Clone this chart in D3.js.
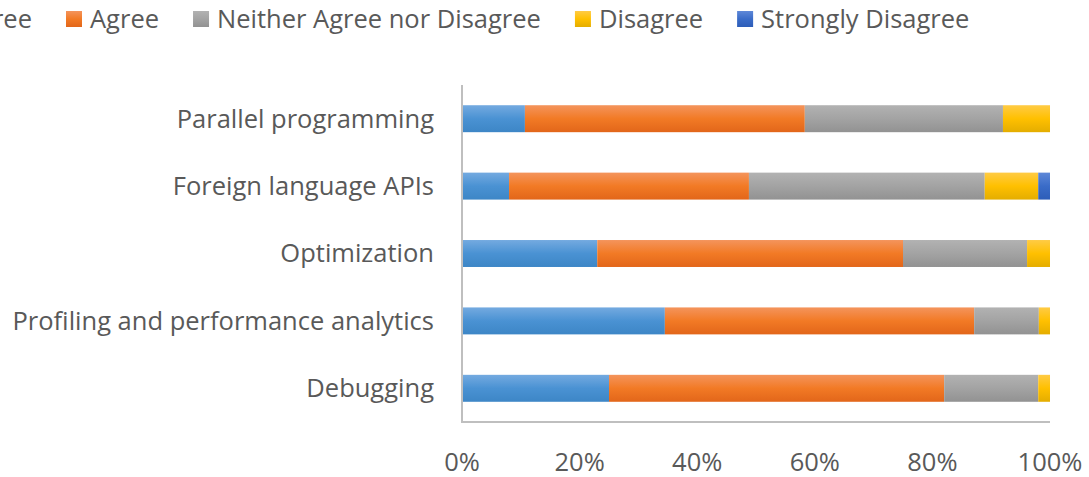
<!DOCTYPE html>
<html>
<head>
<meta charset="utf-8">
<script src="https://cdn.jsdelivr.net/npm/d3@7"></script>
<style>
body { margin: 0; background: #fff; }
svg { display: block; font-family: "Open Sans", sans-serif; }
</style>
</head>
<body>
<div class="featured"></div>
<script>
// categories, top to bottom as drawn
var categories = ["Parallel programming", "Foreign language APIs", "Optimization",
                  "Profiling and performance analytics", "Debugging"];
var seriesNames = ["Strongly Agree", "Agree", "Neither Agree nor Disagree", "Disagree", "Strongly Disagree"];

// percent of answers per category (same order as categories)
var stronglyAgree = [10.7, 8.0, 23.0, 34.5, 25.0];
var agree         = [47.6, 40.8, 52.0, 52.6, 57.0];
var neither       = [33.7, 40.1, 21.1, 11.0, 16.0];
var disagree      = [8.0, 9.1, 3.9, 1.9, 2.0];
var stronglyDis   = [0, 2.0, 0, 0, 0];

var tickValues = [0, 0.2, 0.4, 0.6, 0.8, 1];

var W = 1089, H = 477;
var fs = 25.5;
var colors = [
  ["#74aae0", "#4a92d3", "#3d86c6"],
  ["#f4945c", "#f27a25", "#e2661a"],
  ["#b2b2b2", "#a3a3a3", "#929292"],
  ["#ffcb45", "#ffc000", "#e4ad00"],
  ["#5e88d8", "#3a6cc8", "#2d5db8"]
];

var svg = d3.select(".featured").append("svg").attr("width", W).attr("height", H);
var defs = svg.append("defs");
colors.forEach(function(c, i) {
  var g = defs.append("linearGradient").attr("id", "grad" + i)
    .attr("x1", 0).attr("y1", 0).attr("x2", 0).attr("y2", 1);
  g.append("stop").attr("offset", "0%").attr("stop-color", c[0]);
  g.append("stop").attr("offset", "50%").attr("stop-color", c[1]);
  g.append("stop").attr("offset", "100%").attr("stop-color", c[2]);
});

var x = d3.scaleLinear().domain([0, 1]).range([462, 1050]);
var y = d3.scaleBand().domain(categories).range([85, 422]).paddingInner(0.6).paddingOuter(0.3);

// build stack table
var rows = categories.map(function(c, i) {
  return { cat: c, s0: stronglyAgree[i], s1: agree[i], s2: neither[i], s3: disagree[i], s4: stronglyDis[i] };
});
var stack = d3.stack().keys(["s0", "s1", "s2", "s3", "s4"]).offset(d3.stackOffsetExpand);
var layers = stack(rows);

svg.append("g").selectAll("g")
  .data(layers)
  .enter().append("g")
  .attr("fill", function(d, i) { return "url(#grad" + i + ")"; })
  .selectAll("rect")
  .data(function(d) { return d; })
  .enter().append("rect")
  .attr("x", function(d) { return x(d[0]); })
  .attr("width", function(d) { return x(d[1]) - x(d[0]); })
  .attr("y", function(d) { return y(d.data.cat); })
  .attr("height", y.bandwidth());

// axis lines
svg.append("line").attr("x1", 462).attr("x2", 462).attr("y1", 85).attr("y2", 422)
  .attr("stroke", "#bfbfbf").attr("stroke-width", 2);
svg.append("line").attr("x1", 461).attr("x2", 1050).attr("y1", 422).attr("y2", 422)
  .attr("stroke", "#bfbfbf").attr("stroke-width", 2);

// category labels
svg.append("g").selectAll("text")
  .data(categories)
  .enter().append("text")
  .attr("x", 434)
  .attr("y", function(d) { return y(d) + y.bandwidth() / 2; })
  .attr("dy", "0.35em")
  .attr("text-anchor", "end")
  .attr("font-size", fs)
  .attr("fill", "#595959")
  .text(function(d) { return d; });

// x tick labels
svg.append("g").selectAll("text")
  .data(tickValues)
  .enter().append("text")
  .attr("x", function(d) { return x(d); })
  .attr("y", 471)
  .attr("text-anchor", "middle")
  .attr("font-size", fs)
  .attr("fill", "#595959")
  .text(d3.format(".0%"));

// legend, laid out left to right; "Agree" swatch sits at x=66
var legend = svg.append("g");
var items = legend.selectAll("g").data(seriesNames).enter().append("g");
items.append("rect").attr("width", 16).attr("height", 16).attr("y", 11)
  .attr("fill", function(d, i) { return "url(#grad" + i + ")"; });
items.append("text").attr("x", 24).attr("y", 19).attr("dy", "0.35em")
  .attr("font-size", fs).attr("fill", "#595959")
  .text(function(d) { return d; });
var pos = [];
var cur = 0;
items.each(function(d, i) {
  pos.push(cur);
  cur += 24 + d3.select(this).select("text").node().getComputedTextLength() + 34;
});
var shift = 66 - pos[1];
items.attr("transform", function(d, i) { return "translate(" + (pos[i] + shift) + ",0)"; });
</script>
</body>
</html>
